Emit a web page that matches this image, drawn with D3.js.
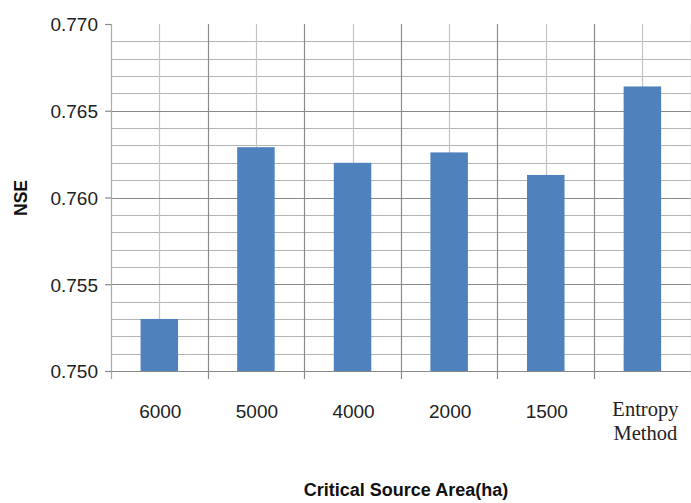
<!DOCTYPE html>
<html><head><meta charset="utf-8">
<script src="https://cdn.jsdelivr.net/npm/d3@7/dist/d3.min.js"></script>
<style>body{margin:0;background:#fff}svg{display:block}</style>
</head><body>
<svg id="c" width="691" height="503"></svg>
<script>
const categories = ["6000", "5000", "4000", "2000", "1500", "Entropy Method"];
const nseValues = [0.7530, 0.7629, 0.7620, 0.7626, 0.7613, 0.7664];
const yTicks = [0.750, 0.755, 0.760, 0.765, 0.770];
const yMinorTicks = [0.751,0.752,0.753,0.754,0.756,0.757,0.758,0.759,0.761,0.762,0.763,0.764,0.766,0.767,0.768,0.769];

(function(){
const svg = d3.select("#c");
const pLeft = 111, pRight = 690.7, pTop = 24, pBottom = 371;
const x = d3.scaleBand().domain(categories).range([pLeft, pRight]).padding(0);
const y = d3.scaleLinear().domain([0.750, 0.770]).range([pBottom, pTop]);

const g = svg.append("g");
g.selectAll("line.minor").data(yMinorTicks).join("line")
  .attr("x1", pLeft).attr("x2", pRight)
  .attr("y1", d => Math.round(y(d)) + 0.5).attr("y2", d => Math.round(y(d)) + 0.5)
  .attr("stroke", "#b4b4b4").attr("stroke-width", 1.2);
g.selectAll("line.vc").data(categories).join("line")
  .attr("x1", d => Math.round(x(d) + x.bandwidth()/2) + 0.5)
  .attr("x2", d => Math.round(x(d) + x.bandwidth()/2) + 0.5)
  .attr("y1", pTop).attr("y2", pBottom)
  .attr("stroke", "#c4c4c4").attr("stroke-width", 1.2);
g.selectAll("line.major").data(yTicks.filter(d => d < 0.770 && d > 0.750)).join("line")
  .attr("x1", pLeft).attr("x2", pRight)
  .attr("y1", d => Math.round(y(d)) + 0.5).attr("y2", d => Math.round(y(d)) + 0.5)
  .attr("stroke", "#8a8a8a").attr("stroke-width", 1.2);
const bounds = categories.map(d => x(d)).concat([pRight]);
g.selectAll("line.vb").data(bounds).join("line")
  .attr("x1", d => Math.round(d) + 0.5).attr("x2", d => Math.round(d) + 0.5)
  .attr("y1", pTop).attr("y2", pBottom + 8)
  .attr("stroke", (d, i) => i === 0 ? "#ababab" : "#8a8a8a").attr("stroke-width", 1.2);

const bw = 37.5;
g.selectAll("rect.bar").data(nseValues).join("rect")
  .attr("x", (d, i) => x(categories[i]) + x.bandwidth()/2 - bw/2)
  .attr("y", d => y(d))
  .attr("width", bw)
  .attr("height", d => y(0.750) - y(d))
  .attr("fill", "#4f81bd");

g.append("line").attr("x1", pLeft).attr("x2", pRight)
  .attr("y1", pBottom + 0.5).attr("y2", pBottom + 0.5)
  .attr("stroke", "#8a8a8a").attr("stroke-width", 1.2);

const yAxis = d3.axisLeft(y).tickValues(yTicks).tickFormat(d3.format(".3f")).tickSize(6).tickPadding(7);
const ya = svg.append("g").attr("transform", `translate(${pLeft},0)`).call(yAxis);
ya.select(".domain").remove();
ya.selectAll(".tick line").attr("stroke", "#8a8a8a").attr("stroke-width", 1.2);
ya.selectAll(".tick text").attr("font-family", "'Liberation Sans', Arial, sans-serif")
  .attr("font-size", 19).attr("fill", "#222").attr("dy", "0.36em");

const xl = svg.append("g");
categories.forEach(c => {
  const cx = x(c) + x.bandwidth()/2 + 1;
  if (c === "Entropy Method") {
    const t = xl.append("text").attr("text-anchor", "middle")
      .attr("font-family", "'Liberation Serif', 'Times New Roman', serif")
      .attr("font-size", 20.5).attr("fill", "#222");
    t.append("tspan").attr("x", cx + 2).attr("y", 416).text("Entropy");
    t.append("tspan").attr("x", cx + 2).attr("y", 440).text("Method");
  } else {
    xl.append("text").attr("x", cx).attr("y", 418)
      .attr("text-anchor", "middle").attr("font-family", "'Liberation Sans', Arial, sans-serif")
      .attr("font-size", 19).attr("fill", "#222").text(c);
  }
});

svg.append("text").attr("transform", "translate(27,198) rotate(-90)")
  .attr("text-anchor", "middle").attr("font-family", "'Liberation Sans', Arial, sans-serif")
  .attr("font-weight", "bold").attr("font-size", 17.5).attr("fill", "#111").text("NSE");
svg.append("text").attr("x", 406).attr("y", 496)
  .attr("text-anchor", "middle").attr("font-family", "'Liberation Sans', Arial, sans-serif")
  .attr("font-weight", "bold").attr("font-size", 18).attr("fill", "#111").text("Critical Source Area(ha)");
})();
</script>
</body></html>
